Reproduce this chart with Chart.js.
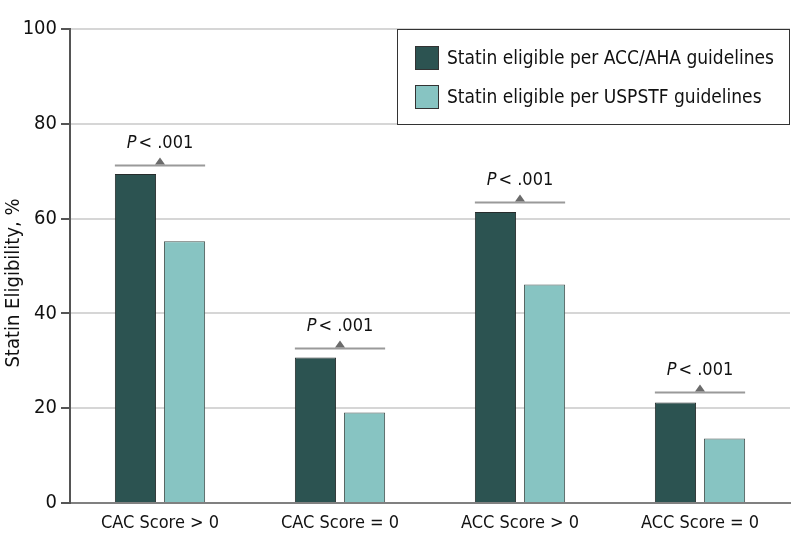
<!DOCTYPE html>
<html>
<head>
<meta charset="utf-8">
<script src="https://cdn.jsdelivr.net/npm/chart.js@4/dist/chart.umd.min.js"></script>
<style>
  body { margin: 0; background: #fff; }
  #wrap { width: 798px; height: 557px; }
</style>
</head>
<body>
<div id="wrap"><canvas id="chartCanvas" width="798" height="557"></canvas></div>
<script>
const categories = ["CAC Score > 0", "CAC Score = 0", "ACC Score > 0", "ACC Score = 0"];
const accAha = [69.4, 30.7, 61.4, 21.2];
const uspstf = [55.2, 19.1, 46.1, 13.6];
const pLevels = [71.3, 32.8, 63.6, 23.5];
const pLabels = ["< .001", "< .001", "< .001", "< .001"];
const yTicks = [0, 20, 40, 60, 80, 100];
const yTitle = "Statin Eligibility, %";

const FONT = "'DejaVu Sans Condensed', 'DejaVu Sans', sans-serif";
const darkGreen = "#2c5351";
const lightGreen = "#87c4c2";

// p-value brackets above each pair
const pPlugin = {
    id: "pvalues",
    afterDatasetsDraw(chart) {
        let ctx = chart.ctx;
        let y = chart.scales.y;
        let m0 = chart.getDatasetMeta(0), m1 = chart.getDatasetMeta(1);
        ctx.save();
        for (let i = 0; i < categories.length; i++) {
            let b0 = m0.data[i], b1 = m1.data[i];
            let x1 = b0.x - b0.width / 2, x2 = b1.x + b1.width / 2;
            let cx = (x1 + x2) / 2;
            let ly = Math.round(y.getPixelForValue(pLevels[i])) + 0.5;
            ctx.strokeStyle = "#9a9a9a";
            ctx.lineWidth = 2;
            ctx.beginPath();
            ctx.moveTo(x1, ly);
            ctx.lineTo(x2, ly);
            ctx.stroke();
            ctx.fillStyle = "#6b6b6b";
            ctx.beginPath();
            ctx.moveTo(cx - 5, ly - 1);
            ctx.lineTo(cx + 5, ly - 1);
            ctx.lineTo(cx, ly - 8);
            ctx.closePath();
            ctx.fill();
            // text: italic P then rest
            ctx.fillStyle = "#111";
            ctx.textBaseline = "alphabetic";
            ctx.font = "italic 18px " + FONT;
            let wp = ctx.measureText("P").width;
            ctx.font = "18px " + FONT;
            let wr = ctx.measureText(pLabels[i]).width;
            let tx = cx - (wp + 2 + wr) / 2;
            let ty = ly - 18;
            ctx.font = "italic 18px " + FONT;
            ctx.fillText("P", tx, ty);
            ctx.font = "18px " + FONT;
            ctx.fillText(pLabels[i], tx + wp + 2, ty);
        }
        ctx.restore();
    }
};

// boxed legend in top right + y title
const legendBox = {
    id: "legendBox",
    afterDraw(chart) {
        let ctx = chart.ctx;
        ctx.save();
        let bx = 397.5, by = 29.5, bw = 392, bh = 95;
        ctx.fillStyle = "#fff";
        ctx.fillRect(bx, by, bw, bh);
        ctx.strokeStyle = "#333";
        ctx.lineWidth = 1;
        ctx.strokeRect(bx, by, bw, bh);
        chart.data.datasets.forEach(function(ds, i) {
            let sy = 46 + i * 39;
            ctx.fillStyle = ds.backgroundColor;
            ctx.fillRect(415, sy, 24, 24);
            ctx.strokeStyle = "#333";
            ctx.strokeRect(415.5, sy + 0.5, 23, 23);
            ctx.fillStyle = "#111";
            ctx.font = "19px " + FONT;
            ctx.textBaseline = "middle";
            ctx.fillText(ds.label, 447, sy + 13);
        });

        ctx.translate(14, 283);
        ctx.rotate(-Math.PI / 2);
        ctx.font = "20px " + FONT;
        ctx.textAlign = "center";
        ctx.textBaseline = "middle";
        ctx.fillText(yTitle, 0, 0);
        ctx.restore();
    }
};

let context = document.querySelector("#chartCanvas").getContext("2d");
new Chart(context, {
    type: "bar",
    data: {
        labels: categories,
        datasets: [{
            label: "Statin eligible per ACC/AHA guidelines",
            data: accAha,
            backgroundColor: darkGreen,
            borderColor: "#262c2c",
            borderWidth: 1
        }, {
            label: "Statin eligible per USPSTF guidelines",
            data: uspstf,
            backgroundColor: lightGreen,
            borderColor: "#45524f",
            borderWidth: 1
        }]
    },
    options: {
        responsive: false,
        animation: false,
        layout: { padding: { top: 29, right: 8, left: 0, bottom: 0 } },
        categoryPercentage: 0.545,
        barPercentage: 0.84,
        plugins: {
            legend: { display: false },
            tooltip: { enabled: false }
        },
        scales: {
            x: {
                grid: { display: false, drawTicks: false },
                border: { color: "#808080", width: 2 },
                ticks: {
                    color: "#111",
                    font: { family: FONT, size: 18 },
                    padding: 10
                },
                afterFit(scale) { scale.height = 54; }
            },
            y: {
                min: 0,
                max: 100,
                afterBuildTicks(scale) { scale.ticks = yTicks.map(v => ({ value: v })); },
                grid: {
                    color: "#d6d6d6",
                    lineWidth: 2,
                    tickColor: "#555",
                    tickLength: 9,
                    drawTicks: true
                },
                border: { color: "#555", width: 2 },
                ticks: {
                    color: "#111",
                    font: { family: FONT, size: 20 },
                    padding: 4
                },
                afterFit(scale) { scale.width = 70; }
            }
        }
    },
    plugins: [pPlugin, legendBox]
});
</script>
</body>
</html>
